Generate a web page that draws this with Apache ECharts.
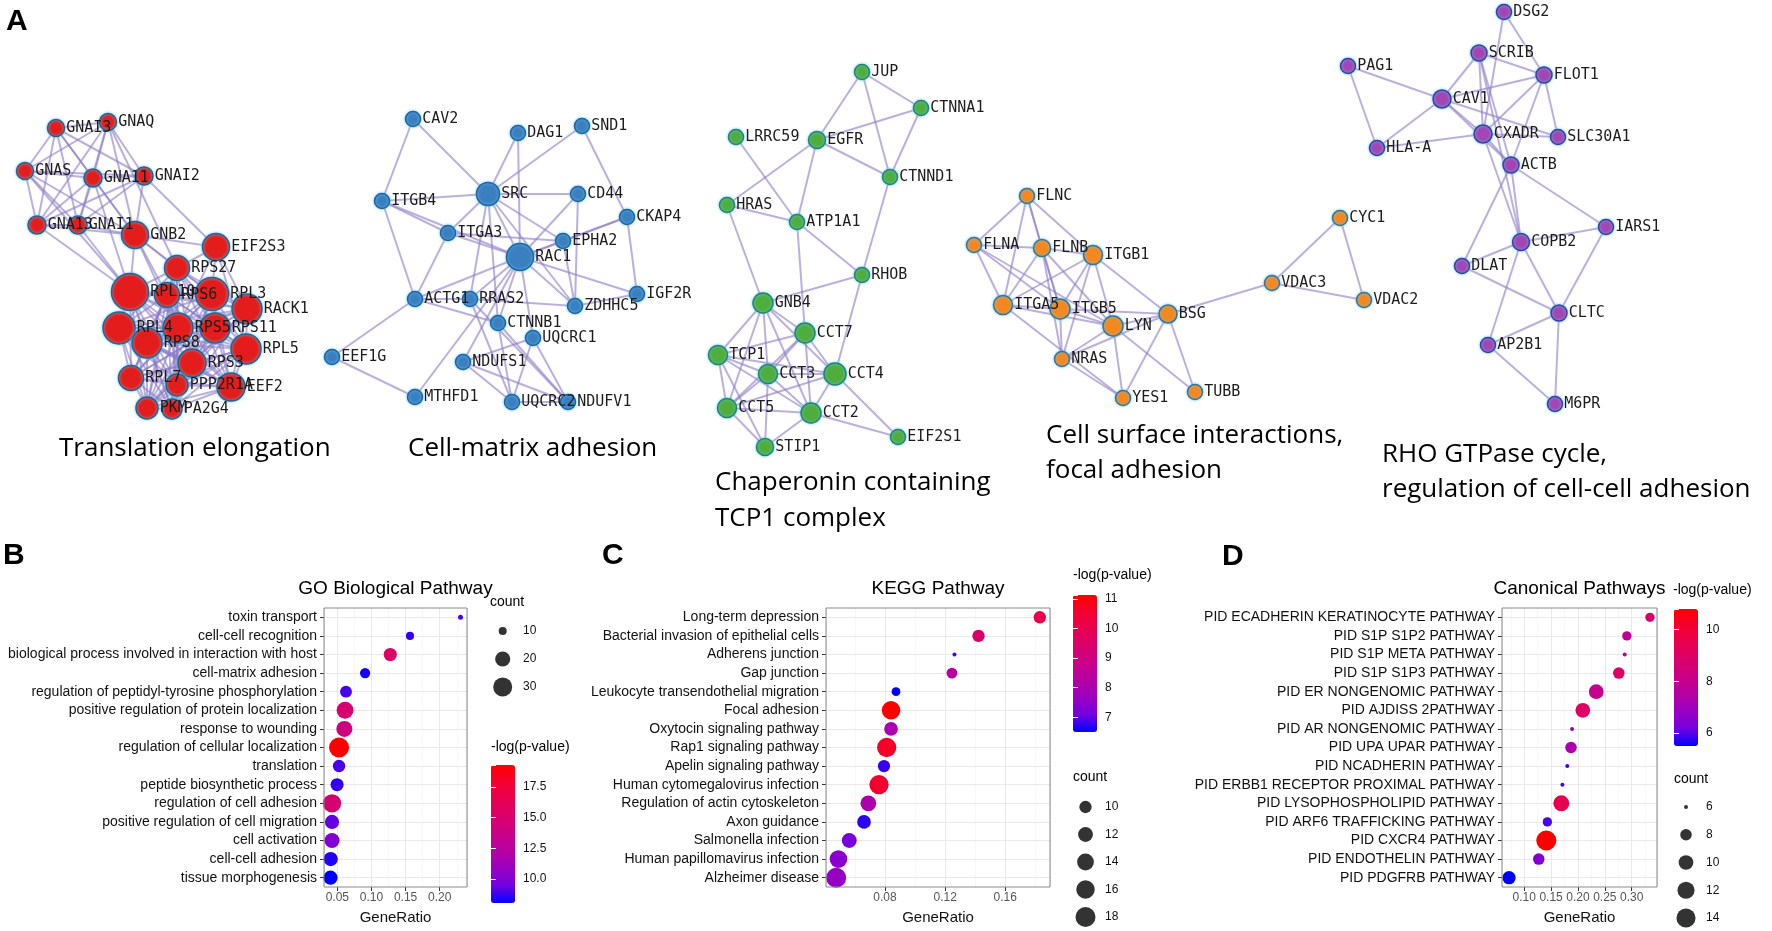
<!DOCTYPE html>
<html>
<head>
<meta charset="utf-8">
<title>Protein networks and pathway enrichment</title>
<script src="https://cdn.jsdelivr.net/npm/echarts@6.0.0/dist/echarts.min.js"></script>
<style>
  html, body { margin: 0; padding: 0; background: #fff; }
  #chart { width: 1772px; height: 931px; }
</style>
</head>
<body>
<div id="chart"></div>
<script>
// ====== A: network clusters [name, layout x, layout y, weight] ======
const transNodes = [
  ["GNAI3", 56, 128, 2.75], ["GNAQ", 108, 122, 2.75], ["GNAS", 25, 171, 2.75],
  ["GNA11", 93, 178, 3], ["GNAI2", 144, 176, 3], ["GNA13", 37, 225, 3], ["GNAI1", 78, 225, 3],
  ["GNB2", 135, 235, 5.25], ["EIF2S3", 216, 247, 5.25], ["RPS27", 177, 268, 4.75],
  ["RPL10", 130, 292, 7.75], ["RPS6", 167, 295, 4.75], ["RPL3", 212, 294, 6.75],
  ["RACK1", 247, 309, 6], ["RPL4", 119, 328, 6.5], ["RPS5", 178, 328, 6], ["RPS11", 215, 328, 6],
  ["RPS8", 147, 343, 6], ["RPL5", 246, 349, 6], ["RPS3", 192, 363, 5.5], ["RPL7", 131, 378, 4.75],
  ["PPP2R1A", 177, 385, 4], ["EEF2", 231, 387, 5.5], ["PKM", 147, 408, 4], ["PA2G4", 172, 409, 3.5]
];
const transCliques = [
  ["GNAI3", "GNAQ", "GNAS", "GNA11", "GNAI2", "GNA13", "GNAI1", "GNB2"],
  ["RPS27", "RPL10", "RPS6", "RPL3", "RACK1", "RPL4", "RPS5", "RPS11", "RPS8", "RPL5", "RPS3",
   "RPL7", "EEF2", "PKM", "PA2G4", "PPP2R1A"]
];
const transLinks = [
  ["EIF2S3", "RPS27"], ["EIF2S3", "RPL3"], ["EIF2S3", "RACK1"], ["EIF2S3", "RPS5"], ["EIF2S3", "RPL5"],
  ["EIF2S3", "GNB2"], ["EIF2S3", "GNAI2"], ["GNB2", "RPL10"], ["GNB2", "RPS27"], ["GNB2", "RPS6"],
  ["GNB2", "RPL3"], ["GNB2", "RPS5"], ["GNAS", "RPL10"], ["GNA13", "RPL10"], ["GNAI1", "RPL10"],
  ["GNA11", "RPL10"], ["GNAQ", "RPS27"]
];

const matrixNodes = [
  ["CAV2", 413, 119, 2.25], ["DAG1", 518, 133, 2.25], ["SND1", 582, 126, 2.25], ["SRC", 488, 194, 4.25],
  ["ITGB4", 382, 201, 2.25], ["CD44", 578, 194, 2.25], ["CKAP4", 627, 217, 2.25], ["ITGA3", 448, 233, 2.25],
  ["EPHA2", 563, 241, 2.25], ["RAC1", 520, 257, 5.25], ["IGF2R", 637, 294, 2.25], ["ACTG1", 415, 299, 2.25],
  ["RRAS2", 470, 299, 2.25], ["ZDHHC5", 575, 306, 2.25], ["CTNNB1", 498, 323, 2.25], ["UQCRC1", 533, 338, 2.25],
  ["EEF1G", 332, 357, 2.25], ["NDUFS1", 463, 362, 2.25], ["MTHFD1", 415, 397, 2.25], ["UQCRC2", 512, 402, 2.25],
  ["NDUFV1", 568, 402, 2.25]
];
const matrixLinks = [
  ["CAV2", "ITGB4"], ["CAV2", "SRC"], ["ITGB4", "SRC"], ["ITGB4", "ITGA3"], ["ITGB4", "ACTG1"], ["ITGB4", "RAC1"],
  ["SRC", "DAG1"], ["SRC", "SND1"], ["SRC", "CD44"], ["SRC", "ITGA3"], ["SRC", "RAC1"], ["SRC", "RRAS2"],
  ["SRC", "CTNNB1"], ["SRC", "EPHA2"], ["SRC", "ZDHHC5"], ["DAG1", "RAC1"], ["SND1", "CKAP4"],
  ["CD44", "RAC1"], ["CD44", "ZDHHC5"], ["EPHA2", "CKAP4"], ["RAC1", "CKAP4"], ["EPHA2", "RAC1"],
  ["EPHA2", "ZDHHC5"], ["ITGA3", "EPHA2"], ["ITGA3", "RAC1"], ["ITGA3", "ACTG1"], ["IGF2R", "ZDHHC5"],
  ["IGF2R", "CKAP4"], ["RAC1", "IGF2R"], ["RAC1", "ACTG1"], ["RAC1", "RRAS2"], ["RAC1", "CTNNB1"],
  ["RAC1", "ZDHHC5"], ["RAC1", "UQCRC1"], ["RAC1", "NDUFS1"], ["RAC1", "MTHFD1"], ["ACTG1", "RRAS2"],
  ["ACTG1", "EEF1G"], ["ACTG1", "CTNNB1"], ["RRAS2", "ZDHHC5"], ["RRAS2", "NDUFV1"], ["RRAS2", "UQCRC2"],
  ["CTNNB1", "UQCRC2"], ["CTNNB1", "NDUFV1"], ["UQCRC1", "NDUFS1"], ["UQCRC1", "UQCRC2"],
  ["UQCRC1", "NDUFV1"], ["NDUFS1", "UQCRC2"], ["NDUFS1", "NDUFV1"], ["EEF1G", "MTHFD1"], ["UQCRC2", "NDUFV1"]
];

const cctNodes = [
  ["JUP", 862, 72, 2.25], ["CTNNA1", 921, 108, 2.25], ["LRRC59", 736, 137, 2.25], ["EGFR", 817, 140, 2.75],
  ["CTNND1", 890, 177, 2.25], ["HRAS", 727, 205, 2.25], ["ATP1A1", 797, 222, 2.25], ["RHOB", 862, 275, 2.25],
  ["GNB4", 763, 303, 3.5], ["CCT7", 805, 333, 3.5], ["TCP1", 718, 355, 3.25], ["CCT3", 768, 374, 3.25],
  ["CCT4", 835, 374, 4], ["CCT5", 727, 408, 3.25], ["CCT2", 811, 413, 3.5], ["STIP1", 765, 447, 2.75],
  ["EIF2S1", 898, 437, 2.25]
];
const cctCliques = [["GNB4", "CCT7", "TCP1", "CCT3", "CCT4", "CCT5", "CCT2"]];
const cctLinks = [
  ["JUP", "EGFR"], ["JUP", "CTNNA1"], ["JUP", "CTNND1"], ["EGFR", "CTNNA1"], ["EGFR", "CTNND1"],
  ["EGFR", "HRAS"], ["EGFR", "ATP1A1"], ["LRRC59", "ATP1A1"], ["HRAS", "ATP1A1"], ["HRAS", "GNB4"],
  ["ATP1A1", "RHOB"], ["ATP1A1", "CCT7"], ["CTNND1", "RHOB"], ["CTNNA1", "CTNND1"], ["RHOB", "GNB4"],
  ["RHOB", "CCT4"], ["TCP1", "STIP1"], ["CCT3", "STIP1"], ["CCT5", "STIP1"], ["CCT2", "STIP1"],
  ["CCT4", "EIF2S1"], ["CCT2", "EIF2S1"]
];

const surfNodes = [
  ["FLNC", 1027, 196, 2.25], ["FLNA", 974, 245, 2.25], ["FLNB", 1042, 248, 2.75], ["ITGB1", 1093, 255, 3.25],
  ["ITGA5", 1003, 305, 3.25], ["ITGB5", 1060, 309, 3.5], ["LYN", 1113, 326, 3.5], ["BSG", 1168, 314, 3],
  ["NRAS", 1062, 359, 2.25], ["YES1", 1123, 398, 2.25], ["TUBB", 1195, 392, 2.25], ["VDAC3", 1272, 283, 2.25],
  ["CYC1", 1340, 218, 2.25], ["VDAC2", 1364, 300, 2.25]
];
const surfLinks = [
  ["FLNC", "FLNA"], ["FLNC", "FLNB"], ["FLNC", "ITGB1"], ["FLNC", "ITGA5"], ["FLNC", "ITGB5"], ["FLNA", "FLNB"],
  ["FLNA", "ITGA5"], ["FLNA", "ITGB5"], ["FLNA", "LYN"], ["FLNB", "ITGB1"], ["FLNB", "ITGA5"], ["FLNB", "ITGB5"],
  ["FLNB", "LYN"], ["FLNB", "NRAS"], ["ITGB1", "ITGA5"], ["ITGB1", "ITGB5"], ["ITGB1", "LYN"], ["ITGB1", "BSG"],
  ["ITGB1", "NRAS"], ["ITGA5", "ITGB5"], ["ITGA5", "LYN"], ["ITGA5", "YES1"], ["ITGB5", "LYN"], ["ITGB5", "BSG"],
  ["ITGB5", "NRAS"], ["LYN", "BSG"], ["LYN", "NRAS"], ["LYN", "YES1"], ["LYN", "TUBB"], ["BSG", "VDAC3"],
  ["BSG", "TUBB"], ["BSG", "YES1"], ["NRAS", "YES1"], ["NRAS", "BSG"], ["VDAC3", "CYC1"], ["VDAC3", "VDAC2"],
  ["CYC1", "VDAC2"]
];

const rhoNodes = [
  ["PAG1", 1348, 66, 2.25], ["CAV1", 1442, 99, 3], ["HLA-A", 1377, 148, 2.25], ["DSG2", 1504, 12, 2.25],
  ["SCRIB", 1479, 53, 2.5], ["FLOT1", 1544, 75, 2.5], ["CXADR", 1483, 134, 3], ["SLC30A1", 1558, 137, 2.25],
  ["ACTB", 1511, 165, 2.5], ["IARS1", 1606, 227, 2.25], ["COPB2", 1521, 242, 2.75], ["DLAT", 1462, 266, 2.25],
  ["CLTC", 1559, 313, 2.5], ["AP2B1", 1488, 345, 2.25], ["M6PR", 1555, 404, 2.25]
];
const rhoLinks = [
  ["PAG1", "CAV1"], ["PAG1", "HLA-A"], ["CAV1", "HLA-A"], ["CAV1", "SCRIB"], ["CAV1", "FLOT1"], ["CAV1", "CXADR"],
  ["CAV1", "SLC30A1"], ["CAV1", "ACTB"], ["HLA-A", "CXADR"], ["DSG2", "CXADR"], ["DSG2", "FLOT1"],
  ["SCRIB", "FLOT1"], ["SCRIB", "CXADR"], ["SCRIB", "ACTB"], ["SCRIB", "COPB2"], ["FLOT1", "CXADR"],
  ["FLOT1", "SLC30A1"], ["FLOT1", "ACTB"], ["CXADR", "SLC30A1"], ["CXADR", "ACTB"], ["CXADR", "COPB2"],
  ["ACTB", "IARS1"], ["ACTB", "DLAT"], ["ACTB", "COPB2"], ["COPB2", "IARS1"], ["COPB2", "DLAT"],
  ["COPB2", "CLTC"], ["COPB2", "AP2B1"], ["DLAT", "CLTC"], ["IARS1", "CLTC"], ["CLTC", "AP2B1"],
  ["CLTC", "M6PR"], ["AP2B1", "M6PR"]
];

// ====== B: GO biological pathway ======
const goTerms = ["toxin transport", "cell-cell recognition", "biological process involved in interaction with host",
  "cell-matrix adhesion", "regulation of peptidyl-tyrosine phosphorylation", "positive regulation of protein localization",
  "response to wounding", "regulation of cellular localization", "translation", "peptide biosynthetic process",
  "regulation of cell adhesion", "positive regulation of cell migration", "cell activation", "cell-cell adhesion",
  "tissue morphogenesis"];
const goRatio = [0.2304, 0.1564, 0.1275, 0.0907, 0.0627, 0.0613, 0.0603, 0.0525, 0.0525, 0.0496, 0.0422, 0.0422, 0.0422, 0.0403, 0.0400];
const goCount = [9, 10, 16, 12, 14, 24, 22, 33, 15, 16, 28, 18, 20, 18, 18];
const goLogP = [9.0, 8.7, 15.5, 8.3, 8.9, 14.8, 14.0, 19.27, 9.0, 8.7, 14.8, 9.3, 10.0, 8.5, 8.06];
const goCountKeys = [10, 20, 30];
const goColorTicks = 2.5;

// ====== C: KEGG pathway ======
const keggTerms = ["Long-term depression", "Bacterial invasion of epithelial cells", "Adherens junction", "Gap junction",
  "Leukocyte transendothelial migration", "Focal adhesion", "Oxytocin signaling pathway", "Rap1 signaling pathway",
  "Apelin signaling pathway", "Human cytomegalovirus infection", "Regulation of actin cytoskeleton", "Axon guidance",
  "Salmonella infection", "Human papillomavirus infection", "Alzheimer disease"];
const keggRatio = [0.1830, 0.1422, 0.1262, 0.1245, 0.0873, 0.0840, 0.0840, 0.0811, 0.0793, 0.0760, 0.0689, 0.0660, 0.0562, 0.0490, 0.0475];
const keggCount = [10, 10, 7, 9, 8, 16, 11, 17, 10, 17, 13, 11, 12, 15, 18];
const keggLogP = [10.1, 9.37, 6.87, 8.26, 6.5, 11.13, 8.03, 10.67, 6.78, 10.57, 8.07, 6.73, 7.15, 7.43, 7.6];
const keggCountKeys = [10, 12, 14, 16, 18];
const keggColorTicks = 1;

// ====== D: canonical pathways ======
const cpTerms = ["PID ECADHERIN KERATINOCYTE PATHWAY", "PID S1P S1P2 PATHWAY", "PID S1P META PATHWAY",
  "PID S1P S1P3 PATHWAY", "PID ER NONGENOMIC PATHWAY", "PID AJDISS 2PATHWAY", "PID AR NONGENOMIC PATHWAY",
  "PID UPA UPAR PATHWAY", "PID NCADHERIN PATHWAY", "PID ERBB1 RECEPTOR PROXIMAL PATHWAY",
  "PID LYSOPHOSPHOLIPID PATHWAY", "PID ARF6 TRAFFICKING PATHWAY", "PID CXCR4 PATHWAY", "PID ENDOTHELIN PATHWAY",
  "PID PDGFRB PATHWAY"];
const cpRatio = [0.334, 0.291, 0.287, 0.276, 0.234, 0.209, 0.189, 0.187, 0.180, 0.171, 0.169, 0.143, 0.141, 0.127, 0.0717];
const cpCount = [7, 7, 6, 8, 10, 10, 6, 8, 6, 6, 11, 7, 15, 8, 9];
const cpLogP = [8.79, 7.89, 7.36, 9.0, 7.99, 9.0, 6.77, 7.36, 5.87, 5.87, 9.42, 5.92, 10.8, 6.4, 5.5];
const cpCountKeys = [6, 8, 10, 12, 14];
const cpColorTicks = 2;

// ====== styles ======
const FONT = "Liberation Sans";
const GRAD = ["#0000FF", "#7300E1", "#9A00C2", "#B500A5", "#C90088", "#DA006C", "#E80050", "#F40031", "#FF0000"];

function cliqueLinks(groups) {
  const out = [];
  groups.forEach(g => {
    for (let i = 0; i < g.length; i++) for (let j = i + 1; j < g.length; j++) out.push([g[i], g[j]]);
  });
  return out;
}

// ggplot-like area scale: diameter grows with sqrt of rescaled count
function sizeScale(counts, dMin, dMax) {
  const lo = Math.min(...counts), hi = Math.max(...counts);
  return c => dMin + (dMax - dMin) * Math.sqrt(Math.max(0, (c - lo) / (hi - lo)));
}

const grid = [], xAxis = [], yAxis = [], series = [], visualMap = [], graphic = [];

// ====== panel A grid (layout space) ======
grid.push({ left: 0, top: 0, width: 1772, height: 470, outerBoundsMode: "none" });
xAxis.push({ type: "value", gridIndex: 0, min: 0, max: 1772, show: false });
yAxis.push({ type: "value", gridIndex: 0, min: 0, max: 470, inverse: true, show: false });

function addNetwork(nodes, links, fill, border) {
  series.push({
    type: "graph", coordinateSystem: "cartesian2d", xAxisIndex: 0, yAxisIndex: 0,
    silent: true, animation: false, z: 2,
    data: nodes.map(n => ({ name: n[0], value: [n[1], n[2]], symbolSize: 6 + 4 * n[3] })),
    links: links.map(l => ({ source: l[0], target: l[1] })),
    symbol: "circle",
    itemStyle: { color: fill, borderColor: border, borderWidth: 1.5, shadowBlur: 3, shadowColor: "rgba(90,210,255,0.9)" },
    lineStyle: { color: "#8e7cc6", width: 2, opacity: 0.6, curveness: 0 },
    label: { show: true, position: "right", distance: 1, fontFamily: "DejaVu Sans Mono", fontSize: 15, color: "#1c1c1c" },
    emphasis: { disabled: true }
  });
}
addNetwork(transNodes, cliqueLinks(transCliques).concat(transLinks), "#e41c1c", "#2f5f88");
addNetwork(matrixNodes, matrixLinks, "#3b7fc0", "#2a5f9a");
addNetwork(cctNodes, cliqueLinks(cctCliques).concat(cctLinks), "#4fae3b", "#2d7f6e");
addNetwork(surfNodes, surfLinks, "#f5871f", "#44708a");
addNetwork(rhoNodes, rhoLinks, "#a346b4", "#3b3f9e");

function text(str, x, y, size, align, family, weight) {
  return { type: "text", x: x, y: y, silent: true, z: 10,
    style: { text: str, fontSize: parseFloat(size), fontFamily: family || FONT, fontWeight: weight || "normal",
      fill: "#000", align: align, textAlign: align, verticalAlign: "middle", textVerticalAlign: "middle" } };
}

// ====== dot plot panels ======
function addDotPanel(cfg) {
  const lo = Math.min(...cfg.ratio), hi = Math.max(...cfg.ratio), pad = (hi - lo) * 0.05;
  const size = sizeScale(cfg.count, cfg.dMin, cfg.dMax);

  // main plot
  const gi = grid.length, xi = xAxis.length, yi = yAxis.length;
  grid.push({ left: cfg.left, top: 608, width: cfg.width, height: 279, show: true, z: 5,
    backgroundColor: "transparent", borderColor: "#8a8a8a", borderWidth: 1, outerBoundsMode: "none" });
  xAxis.push({
    type: "value", gridIndex: gi, min: lo - pad, max: hi + pad, minInterval: cfg.step, maxInterval: cfg.step,
    axisLine: { show: false },
    axisTick: { show: true, length: 4, lineStyle: { color: "#333", width: 1 } },
    axisLabel: { color: "#555", fontSize: 12, fontFamily: FONT, margin: 5, showMinLabel: false, showMaxLabel: false,
      formatter: v => v.toFixed(2) },
    splitLine: { show: true, lineStyle: { color: "#e9e9e9", width: 1 } },
    minorTick: { show: false, splitNumber: 2 },
    minorSplitLine: { show: true, lineStyle: { color: "#f3f3f3", width: 0.7 } },
    name: "GeneRatio", nameLocation: "middle", nameGap: 23,
    nameTextStyle: { fontSize: 15, color: "#111", fontFamily: FONT }
  });
  yAxis.push({
    type: "category", gridIndex: gi, data: cfg.terms, inverse: true, boundaryGap: true,
    axisLine: { show: false },
    axisTick: { show: true, alignWithLabel: true, length: 4, lineStyle: { color: "#333", width: 1 } },
    axisLabel: { interval: 0, color: "#111", fontSize: 14, fontFamily: FONT, margin: 7 },
    splitLine: { show: false }
  });
  // horizontal major grid lines at each category, kept beneath the dots
  series.push({
    type: "scatter", xAxisIndex: xi, yAxisIndex: yi, data: [[lo, 0]], symbolSize: 0,
    itemStyle: { opacity: 0 }, silent: true, z: 1,
    markLine: { z: 1, silent: true, symbol: ["none", "none"], animation: false, label: { show: false },
      lineStyle: { color: "#e9e9e9", width: 1, type: "solid" }, emphasis: { disabled: true },
      data: cfg.terms.map((t, i) => ({ yAxis: i })) }
  });
  const si = series.length;
  series.push({
    type: "scatter", xAxisIndex: xi, yAxisIndex: yi, z: 3, silent: true, animation: false,
    data: cfg.terms.map((t, i) => [cfg.ratio[i], i, cfg.count[i], cfg.logp[i]]),
    symbolSize: v => size(v[2]),
    itemStyle: { opacity: 1 }
  });
  graphic.push(text(cfg.title, cfg.left + cfg.width / 2, 589, "19px", "center"));

  // size legend
  const sg = grid.length, sx = xAxis.length, sy = yAxis.length, n = cfg.keys.length, sp = cfg.keyStep;
  grid.push({ left: cfg.keyX - 10, top: cfg.keyTop - sp / 2, width: 20, height: n * sp, outerBoundsMode: "none" });
  xAxis.push({ type: "value", gridIndex: sg, min: 0, max: 1, show: false });
  yAxis.push({ type: "category", gridIndex: sg, data: cfg.keys.map(String), inverse: true, position: "right",
    axisLine: { show: false }, axisTick: { show: false }, splitLine: { show: false },
    axisLabel: { interval: 0, margin: cfg.labelX - cfg.keyX - 10, fontSize: 12, color: "#111", fontFamily: FONT } });
  series.push({ type: "scatter", xAxisIndex: sx, yAxisIndex: sy, silent: true, animation: false,
    data: cfg.keys.map((k, i) => [0.5, i, k]), symbolSize: v => size(v[2]), itemStyle: { color: "#000" } });
  graphic.push(text("count", cfg.keyTitleX, cfg.keyTitleY, "14px", "left"));

  // colour bar
  const cmin = Math.min(...cfg.logp), cmax = Math.max(...cfg.logp);
  visualMap.push({
    type: "continuous", seriesIndex: si, dimension: 3, min: cmin, max: cmax, inRange: { color: GRAD },
    orient: "vertical", left: cfg.barX, top: cfg.barTop, itemWidth: 24, itemHeight: cfg.barH,
    calculable: false, padding: 0, hoverLink: false, realtime: false, text: null, showLabel: false
  });
  const cg = grid.length, cx = xAxis.length;
  grid.push({ left: cfg.barX, top: cfg.barTop, width: 24, height: cfg.barH, outerBoundsMode: "none" });
  xAxis.push({ type: "value", gridIndex: cg, min: 0, max: 1, show: false });
  const fmt = v => (cfg.tickStep % 1 ? v.toFixed(1) : String(Math.round(v)));
  const barAxis = pos => ({
    type: "value", gridIndex: cg, position: pos, min: cmin, max: cmax, z: 6,
    minInterval: cfg.tickStep, maxInterval: cfg.tickStep,
    axisLine: { show: false }, splitLine: { show: false },
    axisTick: { show: true, inside: true, length: 5, lineStyle: { color: "#fff", width: 1 } },
    axisLabel: { show: pos === "right", margin: 8, fontSize: 12, color: "#111", fontFamily: FONT,
      showMinLabel: false, showMaxLabel: false, formatter: fmt }
  });
  yAxis.push(barAxis("right"), barAxis("left"));
  graphic.push(text("-log(p-value)", cfg.barTitleX, cfg.barTitleY, "14px", "left"));
}

addDotPanel({ terms: goTerms, ratio: goRatio, count: goCount, logp: goLogP, title: "GO Biological Pathway",
  left: 324, width: 143, step: 0.05, dMin: 5, dMax: 20,
  keys: goCountKeys, keyX: 502.7, keyTop: 631, keyStep: 28, labelX: 523, keyTitleX: 490, keyTitleY: 602,
  barX: 491, barTop: 765, barH: 138, tickStep: goColorTicks, barTitleX: 491, barTitleY: 747 });
addDotPanel({ terms: keggTerms, ratio: keggRatio, count: keggCount, logp: keggLogP, title: "KEGG Pathway",
  left: 826, width: 224, step: 0.04, dMin: 4, dMax: 20,
  keys: keggCountKeys, keyX: 1085.5, keyTop: 807, keyStep: 27.5, labelX: 1105, keyTitleX: 1073, keyTitleY: 777,
  barX: 1073, barTop: 595, barH: 137, tickStep: keggColorTicks, barTitleX: 1073, barTitleY: 575 });
addDotPanel({ terms: cpTerms, ratio: cpRatio, count: cpCount, logp: cpLogP, title: "Canonical Pathways",
  left: 1502, width: 155, step: 0.05, dMin: 4, dMax: 20,
  keys: cpCountKeys, keyX: 1686, keyTop: 807, keyStep: 27.75, labelX: 1706, keyTitleX: 1674, keyTitleY: 779,
  barX: 1674, barTop: 609, barH: 137, tickStep: cpColorTicks, barTitleX: 1673, barTitleY: 590 });

// ====== panel letters and cluster captions ======
graphic.push(
  text("A", 6, 22, "30px", "left", FONT, "bold"),
  text("B", 3, 556, "30px", "left", FONT, "bold"),
  text("C", 602, 556, "30px", "left", FONT, "bold"),
  text("D", 1222, 557, "30px", "left", FONT, "bold"),
  text("Translation elongation", 59, 449, "26px", "left", "Open Sans"),
  text("Cell-matrix adhesion", 408, 449, "26px", "left", "Open Sans"),
  text("Chaperonin containing", 715, 483, "26px", "left", "Open Sans"),
  text("TCP1 complex", 715, 519, "26px", "left", "Open Sans"),
  text("Cell surface interactions,", 1046, 436, "26px", "left", "Open Sans"),
  text("focal adhesion", 1046, 471, "26px", "left", "Open Sans"),
  text("RHO GTPase cycle,", 1382, 455, "26px", "left", "Open Sans"),
  text("regulation of cell-cell adhesion", 1382, 490, "26px", "left", "Open Sans")
);

const chart = echarts.init(document.getElementById("chart"));
chart.setOption({
  backgroundColor: "#fff",
  animation: false,
  grid: grid, xAxis: xAxis, yAxis: yAxis, series: series, visualMap: visualMap, graphic: graphic
});
window.addEventListener("resize", () => chart.resize());
</script>
</body>
</html>
